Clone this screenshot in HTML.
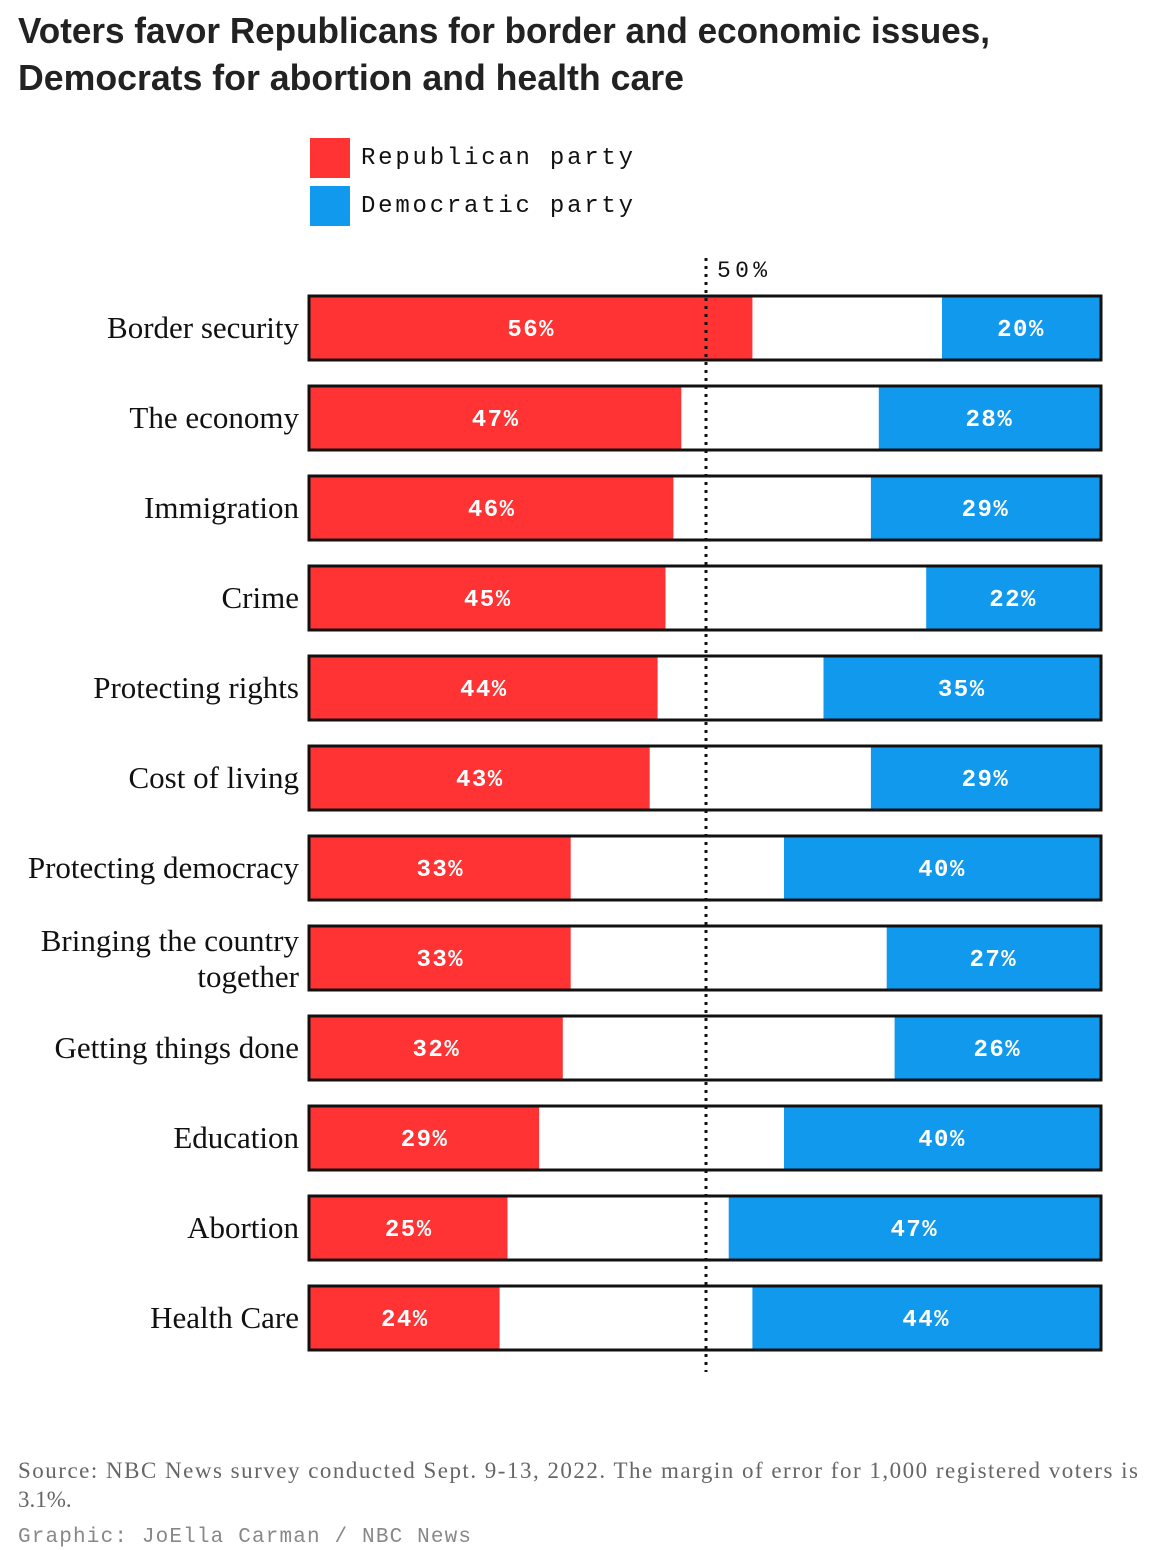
<!DOCTYPE html>
<html><head><meta charset="utf-8"><style>
html,body{margin:0;padding:0;background:#fff;}
svg{display:block;}
</style></head><body>
<svg id="chart" width="1156" height="1550" viewBox="0 0 1156 1550" xmlns="http://www.w3.org/2000/svg">
<text x="18" y="43" font-family="Liberation Sans, sans-serif" font-weight="bold" font-size="36" fill="#222" textLength="972" lengthAdjust="spacingAndGlyphs">Voters favor Republicans for border and economic issues,</text>
<text x="18" y="90" font-family="Liberation Sans, sans-serif" font-weight="bold" font-size="36" fill="#222" textLength="666" lengthAdjust="spacingAndGlyphs">Democrats for abortion and health care</text>
<g>
<rect x="310" y="138" width="40" height="40" fill="#ff3333"/>
<text x="361" y="164" font-family="Liberation Mono, monospace" font-size="24" fill="#111" textLength="272" lengthAdjust="spacing">Republican party</text>
<rect x="310" y="186" width="40" height="40" fill="#1199ee"/>
<text x="361" y="212" font-family="Liberation Mono, monospace" font-size="24" fill="#111" textLength="272" lengthAdjust="spacing">Democratic party</text>
</g>
<g id="bars"></g>
<line x1="706" y1="258" x2="706" y2="1372" stroke="#111" stroke-width="3" stroke-dasharray="3,5"/>
<text x="717" y="277" font-family="Liberation Mono, monospace" font-size="23" fill="#111" textLength="50" lengthAdjust="spacing">50%</text>
<text x="18" y="1478" font-family="Liberation Serif, serif" font-size="23" fill="#666" textLength="1120" lengthAdjust="spacing">Source: NBC News survey conducted Sept. 9-13, 2022. The margin of error for 1,000 registered voters is</text>
<text x="18" y="1507" font-family="Liberation Serif, serif" font-size="23" fill="#666">3.1%.</text>
<text x="18" y="1542" font-family="Liberation Mono, monospace" font-size="21" fill="#888" textLength="453" lengthAdjust="spacing">Graphic: JoElla Carman / NBC News</text>
</svg>
<script>
const categories = [["Border security"],["The economy"],["Immigration"],["Crime"],["Protecting rights"],["Cost of living"],["Protecting democracy"],["Bringing the country","together"],["Getting things done"],["Education"],["Abortion"],["Health Care"]];
const repValues = [56,47,46,45,44,43,33,33,32,29,25,24];
const demValues = [20,28,29,22,35,29,40,27,26,40,47,44];

const NS = "http://www.w3.org/2000/svg";
const g = document.getElementById("bars");
const x0 = 310, x1 = 1100;
const xScale = v => x0 + v / 100 * (x1 - x0);
const yTop = i => 297 + i * 90;
const barH = 62;
function mk(tag, attrs){const e=document.createElementNS(NS,tag);for(const k in attrs)e.setAttribute(k,attrs[k]);return e;}
categories.forEach((cat, i) => {
  const y = yTop(i);
  const row = mk("g", {});
  
  
  const bg = mk("rect", {x:x0, y:y, width:x1-x0, height:barH, fill:"#fff"});
  
  
  row.appendChild(bg);
  const r = mk("rect", {x:x0, y:y, width:xScale(repValues[i])-x0, height:barH, fill:"#ff3333"});
  
  
  row.appendChild(r);
  const dStart = xScale(100 - demValues[i]);
  const d = mk("rect", {x:dStart, y:y, width:x1-dStart, height:barH, fill:"#1199ee"});
  
  
  row.appendChild(d);
  const b = mk("rect", {x:x0-1, y:y-1, width:x1-x0+2, height:barH+2, fill:"none", stroke:"#111", "stroke-width":3});
  
  
  row.appendChild(b);
  const cy = y + barH/2 + 8;
  const rt = mk("text", {x:(x0+xScale(repValues[i]))/2, y:cy, "text-anchor":"middle", "font-family":"Liberation Mono, monospace", "font-weight":"bold", "font-size":24, "letter-spacing":1.5, fill:"#fff"});
  rt.textContent = repValues[i] + "%";
  
  
  row.appendChild(rt);
  const dt = mk("text", {x:(dStart+x1)/2, y:cy, "text-anchor":"middle", "font-family":"Liberation Mono, monospace", "font-weight":"bold", "font-size":24, "letter-spacing":1.5, fill:"#fff"});
  dt.textContent = demValues[i] + "%";
  
  
  row.appendChild(dt);
  cat.forEach((ln, j) => {
    const ly = cat.length === 1 ? y + barH/2 + 10 : y + 24 + j * 36;
    const t = mk("text", {x:299, y:ly, "text-anchor":"end", "font-family":"Liberation Serif, serif", "font-size":31, fill:"#111"});
    t.textContent = ln;
    
    
    row.appendChild(t);
  });
  g.appendChild(row);
});
</script>
</body></html>
